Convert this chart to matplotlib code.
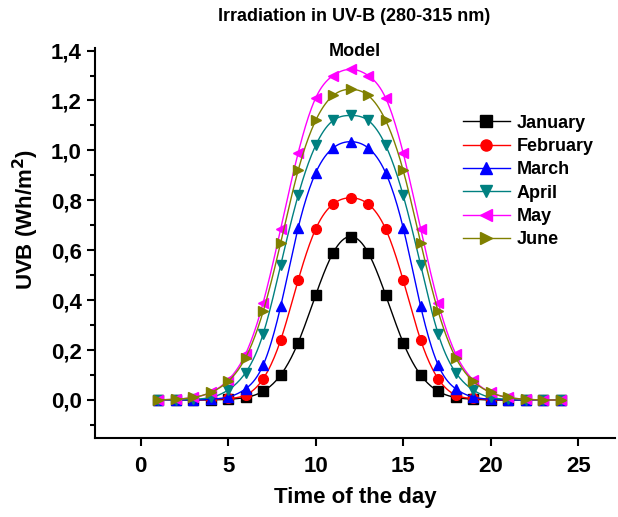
import numpy as np
import matplotlib
matplotlib.use("Agg")
import matplotlib.pyplot as plt
from matplotlib.ticker import MultipleLocator, FuncFormatter

plt.rcParams['font.family'] = ['Liberation Sans', 'DejaVu Sans']
plt.rcParams['font.weight'] = 'bold'

hours = list(range(1, 25))

months = ["January", "February", "March", "April", "May", "June"]
colors = ["#000000", "#ff0000", "#0000ff", "#008080", "#ff00ff", "#808000"]
markers = ["s", "o", "^", "v", "<", ">"]

# UVB values, hours 1..24
january = [0, 0, 0, 0, 0.003, 0.01, 0.035, 0.10, 0.23, 0.42, 0.59, 0.655,
           0.59, 0.42, 0.23, 0.10, 0.035, 0.01, 0.003, 0, 0, 0, 0, 0]
february = [0, 0, 0, 0.002, 0.006, 0.02, 0.085, 0.24, 0.48, 0.685, 0.785, 0.81,
            0.785, 0.685, 0.48, 0.24, 0.085, 0.02, 0.006, 0.002, 0, 0, 0, 0]
march = [0, 0, 0, 0.003, 0.012, 0.045, 0.14, 0.375, 0.69, 0.91, 1.01, 1.035,
         1.01, 0.91, 0.69, 0.375, 0.14, 0.045, 0.012, 0.003, 0, 0, 0, 0]
april = [0, 0, 0.003, 0.01, 0.04, 0.11, 0.265, 0.54, 0.82, 1.02, 1.12, 1.14,
         1.12, 1.02, 0.82, 0.54, 0.265, 0.11, 0.04, 0.01, 0.003, 0, 0, 0]
may = [0, 0.003, 0.01, 0.03, 0.08, 0.185, 0.39, 0.685, 0.99, 1.21, 1.30, 1.325,
       1.30, 1.21, 0.99, 0.685, 0.39, 0.185, 0.08, 0.03, 0.01, 0.003, 0, 0]
june = [0, 0.003, 0.01, 0.03, 0.075, 0.17, 0.355, 0.63, 0.92, 1.12, 1.22, 1.245,
        1.22, 1.12, 0.92, 0.63, 0.355, 0.17, 0.075, 0.03, 0.01, 0.003, 0, 0]

series = [january, february, march, april, may, june]


def spline(x, y, n=400):
    # natural cubic spline, like Origin's spline connection
    x = np.asarray(x, float)
    y = np.asarray(y, float)
    k = len(x)
    h = np.diff(x)
    A = np.zeros((k, k))
    b = np.zeros(k)
    A[0, 0] = 1
    A[-1, -1] = 1
    for i in range(1, k - 1):
        A[i, i - 1] = h[i - 1]
        A[i, i] = 2 * (h[i - 1] + h[i])
        A[i, i + 1] = h[i]
        b[i] = 3 * ((y[i + 1] - y[i]) / h[i] - (y[i] - y[i - 1]) / h[i - 1])
    c = np.linalg.solve(A, b)
    xs = np.linspace(x[0], x[-1], n)
    idx = np.clip(np.searchsorted(x, xs) - 1, 0, k - 2)
    dx = xs - x[idx]
    hi = h[idx]
    bb = (y[idx + 1] - y[idx]) / hi - hi * (2 * c[idx] + c[idx + 1]) / 3
    dd = (c[idx + 1] - c[idx]) / (3 * hi)
    ys = y[idx] + bb * dx + c[idx] * dx ** 2 + dd * dx ** 3
    return xs, ys


fig = plt.figure(figsize=(6.18, 5.17), dpi=100)
ax = fig.add_axes([0.154, 0.153, 0.841, 0.754])

for name, vals, col, mk in zip(months, series, colors, markers):
    xs, ys = spline(hours, vals)
    ax.plot(xs, ys, color=col, lw=1.0)
    ax.plot(hours, vals, linestyle='none', marker=mk, color=col, markersize=7)
    ax.plot([], [], color=col, lw=1.0, marker=mk, markersize=8, label=name)

ax.set_xlim(-2.6, 27.1)
ax.set_ylim(-0.152, 1.41)
ax.xaxis.set_major_locator(MultipleLocator(5))
ax.yaxis.set_major_locator(MultipleLocator(0.2))
ax.yaxis.set_minor_locator(MultipleLocator(0.1))
ax.yaxis.set_major_formatter(FuncFormatter(lambda v, p: ("%.1f" % v).replace(".", ",")))

for s in ["top", "right"]:
    ax.spines[s].set_visible(False)
for s in ["left", "bottom"]:
    ax.spines[s].set_linewidth(1.5)
ax.tick_params(which='major', direction='out', length=6, width=1.5, labelsize=16)
ax.tick_params(which='minor', direction='out', length=3.5, width=1.5)
ax.tick_params(axis='x', pad=7)

ax.set_xlabel("Time of the day", fontsize=16, fontweight='bold', labelpad=7)
ax.set_ylabel("UVB (Wh/m$\\mathbf{^2}$)", fontsize=16, fontweight='bold')
ax.yaxis.set_label_coords(-0.104, 0.56)

fig.text(0.573, 0.968, "Irradiation in UV-B (280-315 nm)", ha='center', va='center',
         fontsize=13, fontweight='bold')
ax.text(0.5, 0.99, "Model", transform=ax.transAxes, ha='center', va='center',
        fontsize=13, fontweight='bold')

leg = ax.legend(loc='upper left', bbox_to_anchor=(0.693, 0.848), frameon=False,
                fontsize=13, labelspacing=0.35, handlelength=2.6, handletextpad=0.4,
                borderaxespad=0)
for t in leg.get_texts():
    t.set_fontweight('bold')

fig.savefig("out.png", dpi=100)
